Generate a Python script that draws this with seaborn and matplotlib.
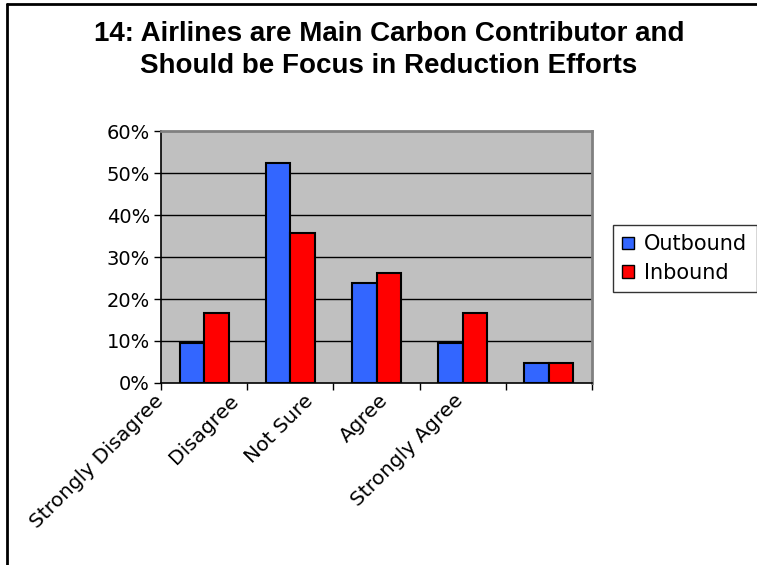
import matplotlib
matplotlib.use("Agg")
import matplotlib.pyplot as plt
from matplotlib import transforms
from matplotlib.lines import Line2D
from matplotlib.ticker import PercentFormatter
import pandas as pd
import seaborn as sns

# Survey responses (% of respondents)
categories = ["Strongly Disagree", "Disagree", "Not Sure", "Agree", "Strongly Agree"]
outbound = [9.5, 52.4, 23.8, 9.5, 4.8]
inbound = [16.7, 35.7, 26.2, 16.7, 4.8]
series_names = ["Outbound", "Inbound"]
y_ticks = [0, 10, 20, 30, 40, 50, 60]
title = "14: Airlines are Main Carbon Contributor and\nShould be Focus in Reduction Efforts"

df = pd.DataFrame({
    "Response": categories * 2,
    "Share": outbound + inbound,
    "Group": [series_names[0]] * len(categories) + [series_names[1]] * len(categories),
})

sns.set_theme(style="ticks")
plt.rcParams["font.family"] = ["DejaVu Sans"]
plt.rcParams["text.color"] = "black"
plt.rcParams["xtick.color"] = "black"
plt.rcParams["ytick.color"] = "black"

W, H = 757, 565
fig = plt.figure(figsize=(W / 100, H / 100), dpi=100)
fig.patch.set_facecolor("white")

left, right, top, bottom = 161, 592, 131, 383
ax = fig.add_axes([left / W, 1 - bottom / H, (right - left) / W, (bottom - top) / H])
ax.set_facecolor("#C0C0C0")

sns.barplot(
    data=df, x="Response", y="Share", hue="Group", hue_order=series_names,
    palette={"Outbound": "#3366FF", "Inbound": "#FF0000"},
    width=0.57, saturation=1, errorbar=None,
    edgecolor="black", linewidth=1.5, ax=ax, zorder=3,
)

# Horizontal gridlines
for v in y_ticks[1:-1]:
    ax.axhline(v, color="black", lw=1, zorder=1)

ax.set_ylim(y_ticks[0], y_ticks[-1])
ax.set_xlim(-0.5, len(categories) - 0.5)
ax.set_yticks(y_ticks)
ax.yaxis.set_major_formatter(PercentFormatter(xmax=100, decimals=0))
ax.tick_params(axis="y", direction="out", length=5, width=1, color="black",
               left=True, labelsize=14, pad=3, labelcolor="black")
ax.set_xticks([i - 0.5 for i in range(len(categories) + 1)])
ax.set_xticklabels([])
ax.tick_params(axis="x", direction="out", length=5, width=1, color="black", bottom=True)
ax.set_xlabel("")
ax.set_ylabel("")

for side in ("left", "bottom"):
    ax.spines[side].set_color("black")
    ax.spines[side].set_linewidth(1.2)
for side in ("top", "right"):
    ax.spines[side].set_visible(True)
    ax.spines[side].set_color("#808080")
    ax.spines[side].set_linewidth(2)

# Rotated category labels under the axis
label_tr = transforms.offset_copy(ax.get_xaxis_transform(), fig=fig, x=-10, y=-8, units="dots")
for i, name in enumerate(categories):
    ax.text(i * 0.87 - 0.47, 0, name, transform=label_tr, rotation=45,
            rotation_mode="anchor", ha="right", va="top", fontsize=14.5, color="black")

# Legend
handles, labels = ax.get_legend_handles_labels()
ax.get_legend().remove()
leg = fig.legend(
    handles, labels, loc="upper left", bbox_to_anchor=(613 / W, 1 - 225 / H),
    bbox_transform=fig.transFigure, frameon=True, fancybox=False, shadow=False,
    fontsize=15, handlelength=0.55, handleheight=0.55, handletextpad=0.5,
    borderpad=0.45, labelspacing=0.4, borderaxespad=0,
)
leg.get_frame().set_edgecolor("black")
leg.get_frame().set_linewidth(1)
for h in leg.legend_handles:
    h.set_edgecolor("black")
    h.set_linewidth(1)

# Title
fig.text(389 / W, 1 - 50 / H, title, ha="center", va="center", fontsize=20,
         fontweight="bold", family=["Liberation Sans", "DejaVu Sans"],
         linespacing=1.3, color="black")

# Chart area border (top and left edges)
bx, by = 7 / W, 1 - 4 / H
fig.add_artist(Line2D([bx, bx], [0, by], transform=fig.transFigure, color="black", lw=2))
fig.add_artist(Line2D([bx, 1], [by, by], transform=fig.transFigure, color="black", lw=2))

fig.savefig("out.png", dpi=100)
